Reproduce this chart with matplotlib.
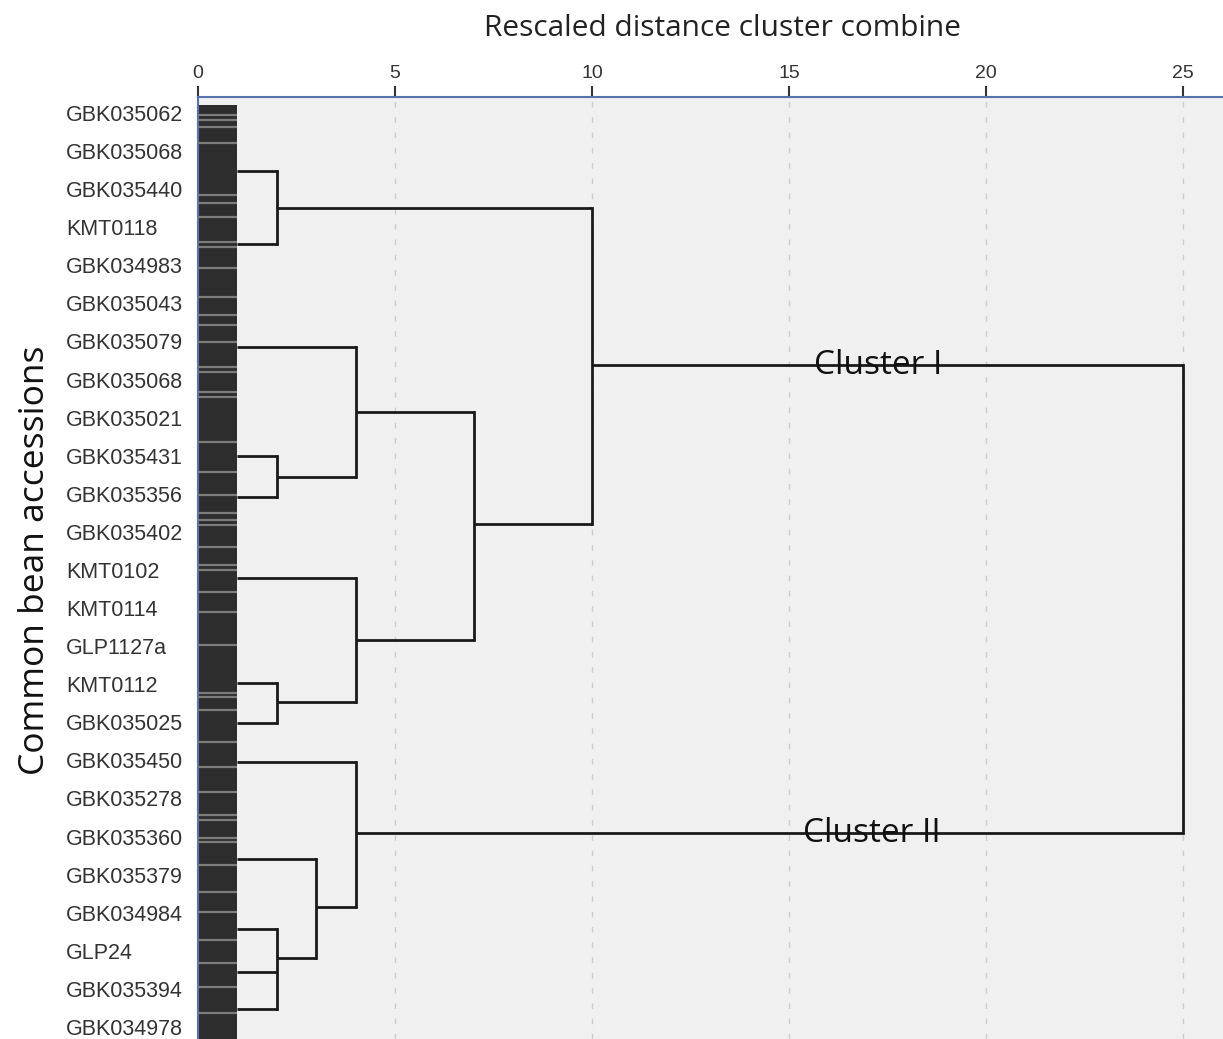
import matplotlib
matplotlib.use('Agg')
import matplotlib.pyplot as plt

## accession labels, one per row (row 0 at top)
accessions = ['GBK035062', 'GBK035068', 'GBK035440', 'KMT0118', 'GBK034983',
              'GBK035043', 'GBK035079', 'GBK035068', 'GBK035021', 'GBK035431',
              'GBK035356', 'GBK035402', 'KMT0102', 'KMT0114', 'GLP1127a',
              'KMT0112', 'GBK035025', 'GBK035450', 'GBK035278', 'GBK035360',
              'GBK035379', 'GBK034984', 'GLP24', 'GBK035394', 'GBK034978']

## sub-clusters leaving the dense block at distance 1 (row position)
leaf_rows = {'L1': 1.52, 'L2': 3.44, 'L3': 6.14, 'L4': 9.00, 'L5': 10.08,
             'L6': 12.21, 'L7': 14.97, 'L8': 16.02, 'L9': 17.04, 'L10': 19.59,
             'L11': 21.43, 'L12': 22.56, 'L13': 23.53}
leaf_dist = 1

## merges: name, children, rescaled distance, row of the outgoing line
merges = [
    ('N1', ['L1', 'L2'], 2, 2.49),
    ('N2', ['L4', 'L5'], 2, 9.56),
    ('N3', ['L3', 'N2'], 4, 7.85),
    ('N4', ['L7', 'L8'], 2, 15.47),
    ('N5', ['L6', 'N4'], 4, 13.84),
    ('N6', ['N3', 'N5'], 7, 10.79),
    ('N7', ['N1', 'N6'], 10, 6.62),
    ('N8', ['L11', 'L12', 'L13'], 2, 22.19),
    ('N9', ['L10', 'N8'], 3, 20.85),
    ('N10', ['L9', 'N9'], 4, 18.91),
    ('N11', ['N7', 'N10'], 25, None),
]

## lighter lines inside the dense leaf block (row positions)
block_top = -0.21
block_bottom = 24.5
light_rows = [0.05, 0.18, 0.37, 0.79, 2.15, 2.36, 2.73, 3.39, 3.52, 4.07, 4.83,
              5.30, 5.57, 6.01, 6.67, 6.80, 7.33, 7.46, 8.64, 9.43, 10.03,
              10.50, 10.69, 10.82, 11.40, 11.87, 12.00, 12.58, 13.10, 13.97,
              15.23, 15.34, 15.68, 16.52, 17.17, 17.83, 18.43, 18.57, 19.04,
              19.14, 19.75, 20.46, 20.98, 21.72, 22.32, 22.95, 23.63]

cluster_names = ['Cluster I', 'Cluster II']
cluster_x = [17.26, 17.1]
cluster_y = [6.62, 18.92]

xticks = [0, 5, 10, 15, 20, 25]

fig = plt.figure(figsize=(12.23, 10.39), dpi=100)
fig.patch.set_facecolor('white')
ax = fig.add_axes([198/1223, 0, 1 - 198/1223, 1 - 97/1039])
ax.set_facecolor('#f0f0f0')

## dense block of leaves
ax.fill_betweenx([block_top, block_bottom], 0, leaf_dist, color='#2d2d2d', lw=0, zorder=2)
ax.hlines(light_rows, 0, leaf_dist, colors='#7c7c7c', lw=1.6, zorder=3)

## dendrogram links
pos = dict((k, (leaf_dist, v)) for k, v in leaf_rows.items())
for name, kids, d, row in merges:
    ys = []
    for k in kids:
        kx, ky = pos[k]
        ax.plot([kx, d], [ky, ky], color='#1a1a1a', lw=2.0, solid_capstyle='butt', zorder=4)
        ys.append(ky)
    ax.plot([d, d], [min(ys), max(ys)], color='#1a1a1a', lw=2.0, solid_capstyle='projecting', zorder=4)
    if row is not None:
        pos[name] = (d, row)

for t, x, y in zip(cluster_names, cluster_x, cluster_y):
    ax.text(x, y, t, ha='center', va='center', fontsize=24, family='Open Sans',
            color='#111111', zorder=5)

ax.set_xlim(0, 1025/39.4)
ax.set_ylim((1039 - 113)/38.08, (97 - 113)/38.08)

ax.xaxis.tick_top()
ax.set_xticks(xticks)
ax.set_xticklabels([str(v) for v in xticks], family='Liberation Sans', fontsize=14, color='#333333')
ax.tick_params(axis='x', length=8, width=1.5, color='#333333', pad=3)
ax.grid(axis='x', color='#cdcdcd', linestyle=(0, (4, 7)), lw=1)
ax.set_axisbelow(True)

ax.set_yticks(range(len(accessions)))
ax.set_yticklabels(accessions, family='Liberation Sans', fontsize=15.5, color='#333333', ha='left')
ax.tick_params(axis='y', length=0, pad=132*72/100)

for s in ['right', 'bottom']:
    ax.spines[s].set_visible(False)
for s in ['top', 'left']:
    ax.spines[s].set_color('#5872b0')
    ax.spines[s].set_linewidth(1.5)

fig.text(722/1223, 1 - 28/1039, 'Rescaled distance cluster combine', ha='center', va='center',
         family='Open Sans', fontsize=21.5, color='#222222')
fig.text(35/1223, 1 - 560/1039, 'Common bean accessions', ha='center', va='center',
         rotation=90, family='Open Sans', fontsize=25.5, color='#111111')

fig.savefig('out.png', dpi=100)
